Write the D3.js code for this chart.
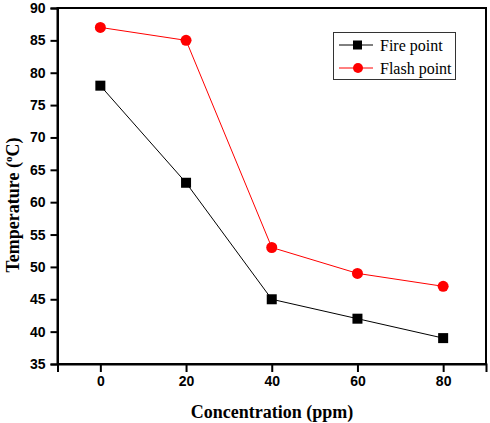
<!DOCTYPE html>
<html><head><meta charset="utf-8">
<script src="https://cdn.jsdelivr.net/npm/d3@7"></script>
<style>body{margin:0;background:#fff}svg{display:block}</style>
</head><body>
<svg id="c" width="490" height="423"></svg>
<script>
const concentrations = [0, 20, 40, 60, 80];
const firePoint = [78, 63, 45, 42, 39];
const flashPoint = [87, 85, 53, 49, 47];
const xTicks = [0, 20, 40, 60, 80];
const yTicks = [35, 40, 45, 50, 55, 60, 65, 70, 75, 80, 85, 90];
const seriesNames = ["Fire point", "Flash point"];

const svg = d3.select("#c");
const L = 57.5, R = 486, T = 8, B = 364;
const x = d3.scaleLinear().domain([-10, 90]).range([L, R]);
const y = d3.scaleLinear().domain([35, 90]).range([B, T]);

// frame
svg.append("rect").attr("x", L).attr("y", T).attr("width", R - L).attr("height", B - T)
  .attr("fill", "none").attr("stroke", "#000").attr("stroke-width", 2);

const yAxis = svg.append("g").attr("transform", `translate(${L},0)`)
  .call(d3.axisLeft(y).tickValues(yTicks).tickSize(7).tickPadding(5).tickFormat(d3.format("d")));
const xAxis = svg.append("g").attr("transform", `translate(0,${B})`)
  .call(d3.axisBottom(x).tickValues(xTicks).tickSize(8).tickPadding(4).tickFormat(d3.format("d")));
[yAxis, xAxis].forEach(a => {
  a.select(".domain").attr("stroke-width", 2);
  a.selectAll(".tick line").attr("stroke-width", 2);
  a.selectAll("text").attr("font-family", "Liberation Sans, Arial, sans-serif")
    .attr("font-weight", "bold").attr("font-size", 14).attr("fill", "#000");
});

const line = d3.line().x((d, i) => x(concentrations[i])).y(d => y(d));
svg.append("path").datum(firePoint).attr("d", line).attr("fill", "none").attr("stroke", "#000").attr("stroke-width", 1);
svg.append("path").datum(flashPoint).attr("d", line).attr("fill", "none").attr("stroke", "#ff0000").attr("stroke-width", 1);

svg.selectAll(".sq").data(firePoint).enter().append("rect")
  .attr("x", (d, i) => x(concentrations[i]) - 5).attr("y", d => y(d) - 5)
  .attr("width", 10).attr("height", 10).attr("fill", "#000");
svg.selectAll(".ci").data(flashPoint).enter().append("circle")
  .attr("cx", (d, i) => x(concentrations[i])).attr("cy", d => y(d)).attr("r", 5.5).attr("fill", "#ff0000");

// axis labels
svg.append("text").attr("x", 272).attr("y", 418).attr("text-anchor", "middle")
  .attr("font-family", "Liberation Serif, Times New Roman, serif").attr("font-weight", "bold")
  .attr("font-size", 18).text("Concentration (ppm)");
const yl = svg.append("text").attr("transform", "translate(19,205) rotate(-90)").attr("text-anchor", "middle")
  .attr("font-family", "Liberation Serif, Times New Roman, serif").attr("font-weight", "bold").attr("font-size", 18);
yl.append("tspan").text("Temperature (");
yl.append("tspan").attr("font-size", 11).attr("dy", -7).text("o");
yl.append("tspan").attr("dy", 7).text("C)");

// legend
const lg = svg.append("g");
lg.append("rect").attr("x", 333.5).attr("y", 32.5).attr("width", 122).attr("height", 47)
  .attr("fill", "#fff").attr("stroke", "#333").attr("stroke-width", 1);
seriesNames.forEach((name, i) => {
  const ly = 45 + i * 23;
  const col = i === 0 ? "#000" : "#ff0000";
  lg.append("line").attr("x1", 339).attr("x2", 373).attr("y1", ly).attr("y2", ly).attr("stroke", col).attr("stroke-width", 1);
  if (i === 0) lg.append("rect").attr("x", 353).attr("y", ly - 4.5).attr("width", 9).attr("height", 9).attr("fill", col);
  else lg.append("circle").attr("cx", 358).attr("cy", ly).attr("r", 5).attr("fill", col);
  lg.append("text").attr("x", 380).attr("y", ly + 5.5).attr("font-family", "Liberation Serif, Times New Roman, serif")
    .attr("font-size", 16).attr("fill", "#000").text(name);
});
</script>
</body></html>
